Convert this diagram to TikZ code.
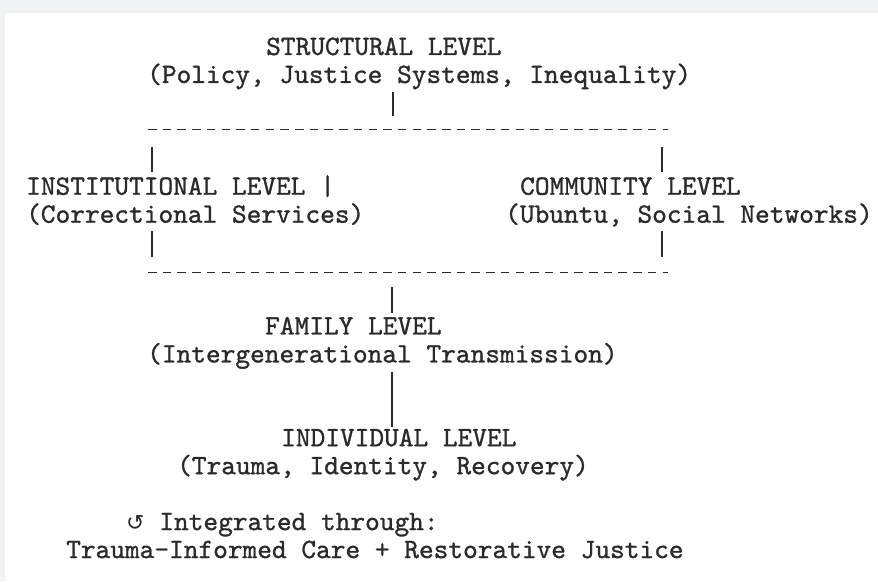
\documentclass[tikz,border=0pt]{standalone}
\usepackage{fontspec}
\setmonofont{lmmono10-regular.otf}[FakeBold=1.0]
\newfontfamily\symfont{DejaVu Sans}
\definecolor{pagebg}{HTML}{F1F2F4}
\definecolor{ink}{HTML}{2A2A2A}
\begin{document}
\begin{tikzpicture}[x=1pt,y=1pt,
  txt/.style={inner sep=0pt, anchor=base west, text=ink, font=\ttfamily\fontsize{28}{30}\selectfont},
  bar/.style={draw=ink, line width=1.8pt},
  dashline/.style={draw=ink, line width=1.8pt, dash pattern=on 8.5pt off 6.2pt}]
\useasboundingbox (0,0) rectangle (878,581);
\fill[pagebg] (0,0) rectangle (878,581);
\fill[white] (5,0) rectangle (878,568);

% text blocks
\node[txt] (s1) at (266,526) {STRUCTURAL LEVEL};
\node[txt] (s2) at (147,498.05) {(Policy, Justice Systems, Inequality)};
\node[txt] (i1) at (26,386.25) {INSTITUTIONAL LEVEL |};
\node[txt] (i2) at (26,358.3) {(Correctional Services)};
\node[txt] (c1) at (520,386.25) {COMMUNITY LEVEL};
\node[txt] (c2) at (505,358.3) {(Ubuntu, Social Networks)};
\node[txt] (f1) at (265,246.5) {FAMILY LEVEL};
\node[txt] (f2) at (147,218.55) {(Intergenerational Transmission)};
\node[txt] (n1) at (281,134.75) {INDIVIDUAL LEVEL};
\node[txt] (n2) at (177,106.8) {(Trauma, Identity, Recovery)};
\node[txt] (g1) at (126,50.9) {{\symfont\fontsize{22}{24}\selectfont ↺} Integrated through:};
\node[txt] (g2) at (66,22.95) {Trauma-Informed Care + Restorative Justice};

% connector points
\coordinate (b1t) at (392.7,489);
\coordinate (b1b) at (392.7,465);
\coordinate (dtl) at (148,451.5);
\coordinate (dtr) at (668,451.5);
\coordinate (ltt) at (152,434);
\coordinate (ltb) at (152,409);
\coordinate (rtt) at (661.7,434);
\coordinate (rtb) at (661.7,409);
\coordinate (lbt) at (152,350);
\coordinate (lbb) at (152,324);
\coordinate (rbt) at (661.7,350);
\coordinate (rbb) at (661.7,324);
\coordinate (dbl) at (148,308.5);
\coordinate (dbr) at (668,308.5);
\coordinate (b6t) at (392,294);
\coordinate (b6b) at (392,268);
\coordinate (b7t) at (392,209);
\coordinate (b7b) at (392,154);

% connectors
\draw[bar] (b1t) -- (b1b);
\draw[dashline] (dtl) -- (dtr);
\draw[bar] (ltt) -- (ltb);
\draw[bar] (rtt) -- (rtb);
\draw[bar] (lbt) -- (lbb);
\draw[bar] (rbt) -- (rbb);
\draw[dashline] (dbl) -- (dbr);
\draw[bar] (b6t) -- (b6b);
\draw[bar] (b7t) -- (b7b);
\end{tikzpicture}
\end{document}
